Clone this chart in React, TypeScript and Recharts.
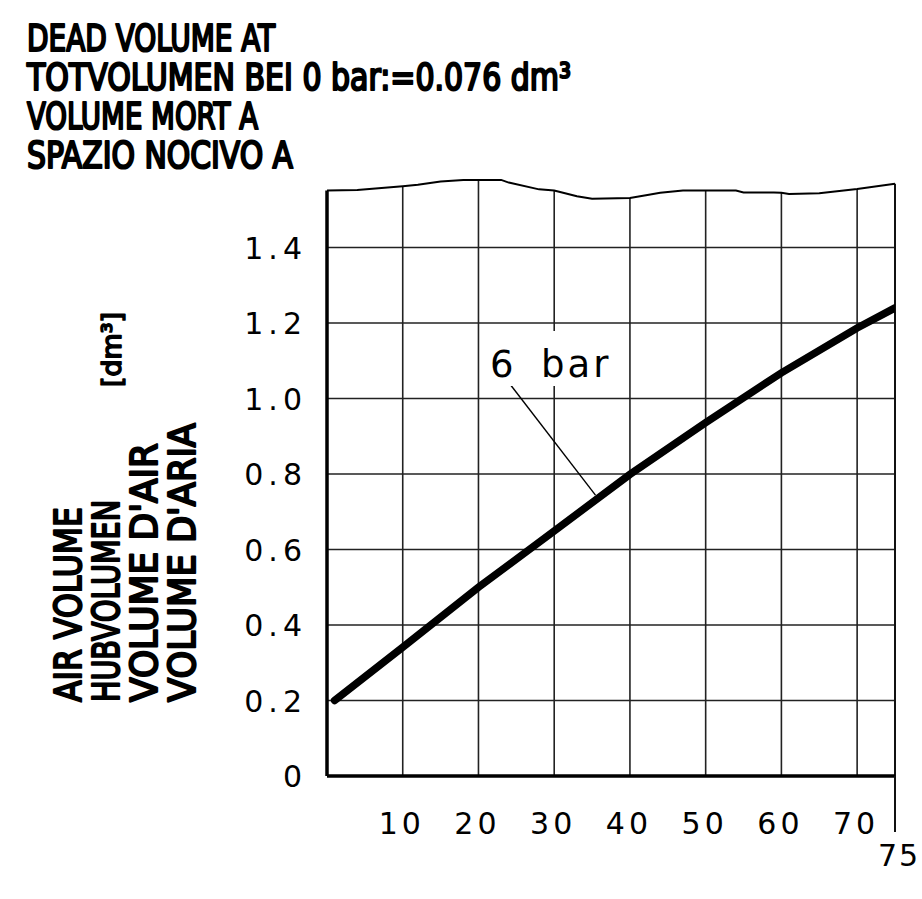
import { LineChart, Line, XAxis, YAxis, ReferenceLine } from 'recharts'

// air volume curve at 6 bar (x = stroke in mm, y = dm³)
const strokeMm = [1, 10, 20, 30, 40, 50, 60, 70, 75]
const airVolume = [0.2, 0.341, 0.5, 0.649, 0.799, 0.936, 1.068, 1.187, 1.24]

// wavy break line at the top of the grid
const edgeX = [0, 4, 10, 12, 15, 18, 20, 23, 24, 28, 30, 33, 35, 40, 42.5, 44, 47, 50, 54, 55, 59, 60, 61, 65, 70, 75]
const edgeY = [1.551, 1.552, 1.562, 1.566, 1.575, 1.579, 1.579, 1.579, 1.572, 1.554, 1.551, 1.536, 1.529, 1.531, 1.54, 1.545, 1.551, 1.551, 1.551, 1.546, 1.546, 1.545, 1.542, 1.544, 1.555, 1.569]

const gridX = [10, 20, 30, 40, 50, 60, 70]
const gridY = [0.2, 0.4, 0.6, 0.8, 1.0, 1.2, 1.4]
const xTicks = [10, 20, 30, 40, 50, 60, 70, 75]
const yTicks = [0, 0.2, 0.4, 0.6, 0.8, 1.0, 1.2, 1.4]

const titleLines = ['DEAD VOLUME AT', 'TOTVOLUMEN BEI 0 bar:=0.076 dm³', 'VOLUME MORT A', 'SPAZIO NOCIVO A']
const titleWidths = [248, 544, 231, 266]
const axisLines = ['AIR VOLUME', 'HUBVOLUMEN', "VOLUME D'AIR", "VOLUME D'ARIA"]
const axisLengths = [195, 202, 259, 279]

const curveData = strokeMm.map((x, i) => ({ x, v: airVolume[i] }))
const edgeData = edgeX.map((x, i) => ({ x, edge: edgeY[i] }))
const edgeAt = (x: number) => edgeY[edgeX.indexOf(x)]

const SANS = "'DejaVu Sans', sans-serif"
const NARROW = "'Liberation Sans Narrow', 'DejaVu Sans Condensed', 'DejaVu Sans', sans-serif"

function XTick({ x, y, payload }: any) {
  const last = payload.value === 75
  return (
    <g>
      {last && <line x1={x} y1={y} x2={x} y2={y + 56} stroke="#111" strokeWidth={2} />}
      <text
        x={last ? x + 4 : x - 1}
        y={last ? y + 90 : y + 58}
        textAnchor="middle"
        fontFamily={SANS}
        fontSize={30}
        letterSpacing={last ? 2 : 4}
        fill="#000"
      >
        {payload.value}
      </text>
    </g>
  )
}

function YTick({ x, y, payload }: any) {
  return (
    <text x={x - 20} y={y + 11} textAnchor="end" fontFamily={SANS} fontSize={30} letterSpacing={5} fill="#000">
      {payload.value === 0 ? '0' : payload.value.toFixed(1)}
    </text>
  )
}

export default function App() {
  return (
    <div style={{ position: 'absolute', left: 0, top: 0, width: 922, height: 899, background: '#fff' }}>
      <LineChart width={922} height={899} margin={{ top: 172, right: 27, bottom: 63, left: 267 }}>
        <XAxis
          type="number"
          dataKey="x"
          domain={[0, 75]}
          ticks={xTicks}
          height={60}
          tickSize={0}
          tickMargin={0}
          tickLine={false}
          axisLine={{ stroke: '#000', strokeWidth: 3.5 }}
          tick={<XTick />}
          allowDataOverflow
        />
        <YAxis
          type="number"
          domain={[0, 1.6]}
          ticks={yTicks}
          width={60}
          tickSize={0}
          tickMargin={0}
          tickLine={false}
          axisLine={false}
          tick={<YTick />}
          allowDataOverflow
        />
        {gridY.map(g => (
          <ReferenceLine key={'h' + g} y={g} stroke="#222" strokeWidth={1.6} />
        ))}
        {gridX.map(g => (
          <ReferenceLine key={'v' + g} segment={[{ x: g, y: 0 }, { x: g, y: edgeAt(g) }]} stroke="#222" strokeWidth={1.6} />
        ))}
        <ReferenceLine segment={[{ x: 0, y: 0 }, { x: 0, y: edgeAt(0) }]} stroke="#000" strokeWidth={3.5} />
        <ReferenceLine segment={[{ x: 75, y: 0 }, { x: 75, y: edgeAt(75) }]} stroke="#111" strokeWidth={2} />
        <ReferenceLine segment={[{ x: 24.2, y: 1.037 }, { x: 35.45, y: 0.744 }]} stroke="#000" strokeWidth={1.4} />
        <Line
          data={edgeData}
          dataKey="edge"
          type="linear"
          stroke="#000"
          strokeWidth={2}
          dot={false}
          isAnimationActive={false}
        />
        <Line
          data={curveData}
          dataKey="v"
          type="linear"
          stroke="#000"
          strokeWidth={7.5}
          strokeLinecap="round"
          dot={false}
          isAnimationActive={false}
        />
      </LineChart>

      <svg width={922} height={899} style={{ position: 'absolute', left: 0, top: 0, pointerEvents: 'none' }}>
        {titleLines.map((t, i) => (
          <text
            key={t}
            x={27}
            y={51 + i * 39}
            fontFamily={NARROW}
            fontSize={38}
            textLength={titleWidths[i]}
            lengthAdjust="spacingAndGlyphs"
            fill="#000"
            stroke="#000"
            strokeWidth={2.2}
            strokeLinejoin="round"
          >
            {t}
          </text>
        ))}
        {axisLines.map((t, i) => (
          <text
            key={t}
            transform={`translate(${81 + i * 38}, 702) rotate(-90)`}
            fontFamily={SANS}
            fontSize={37}
            textLength={axisLengths[i]}
            lengthAdjust="spacingAndGlyphs"
            fill="#000"
            stroke="#000"
            strokeWidth={2.2}
            strokeLinejoin="round"
          >
            {t}
          </text>
        ))}
        <text
          transform="translate(121, 387) rotate(-90)"
          fontFamily={NARROW}
          fontSize={27}
          textLength={75}
          lengthAdjust="spacingAndGlyphs"
          fill="#000"
          stroke="#000"
          strokeWidth={1.6}
          strokeLinejoin="round"
        >
          [dm³]
        </text>
        <rect x={484} y={331} width={136} height={55} fill="#fff" />
        <text y={377} fontFamily={SANS} fontSize={37} letterSpacing={3} fill="#000">
          <tspan x={490}>6</tspan>
          <tspan x={541}>bar</tspan>
        </text>
      </svg>
    </div>
  )
}
